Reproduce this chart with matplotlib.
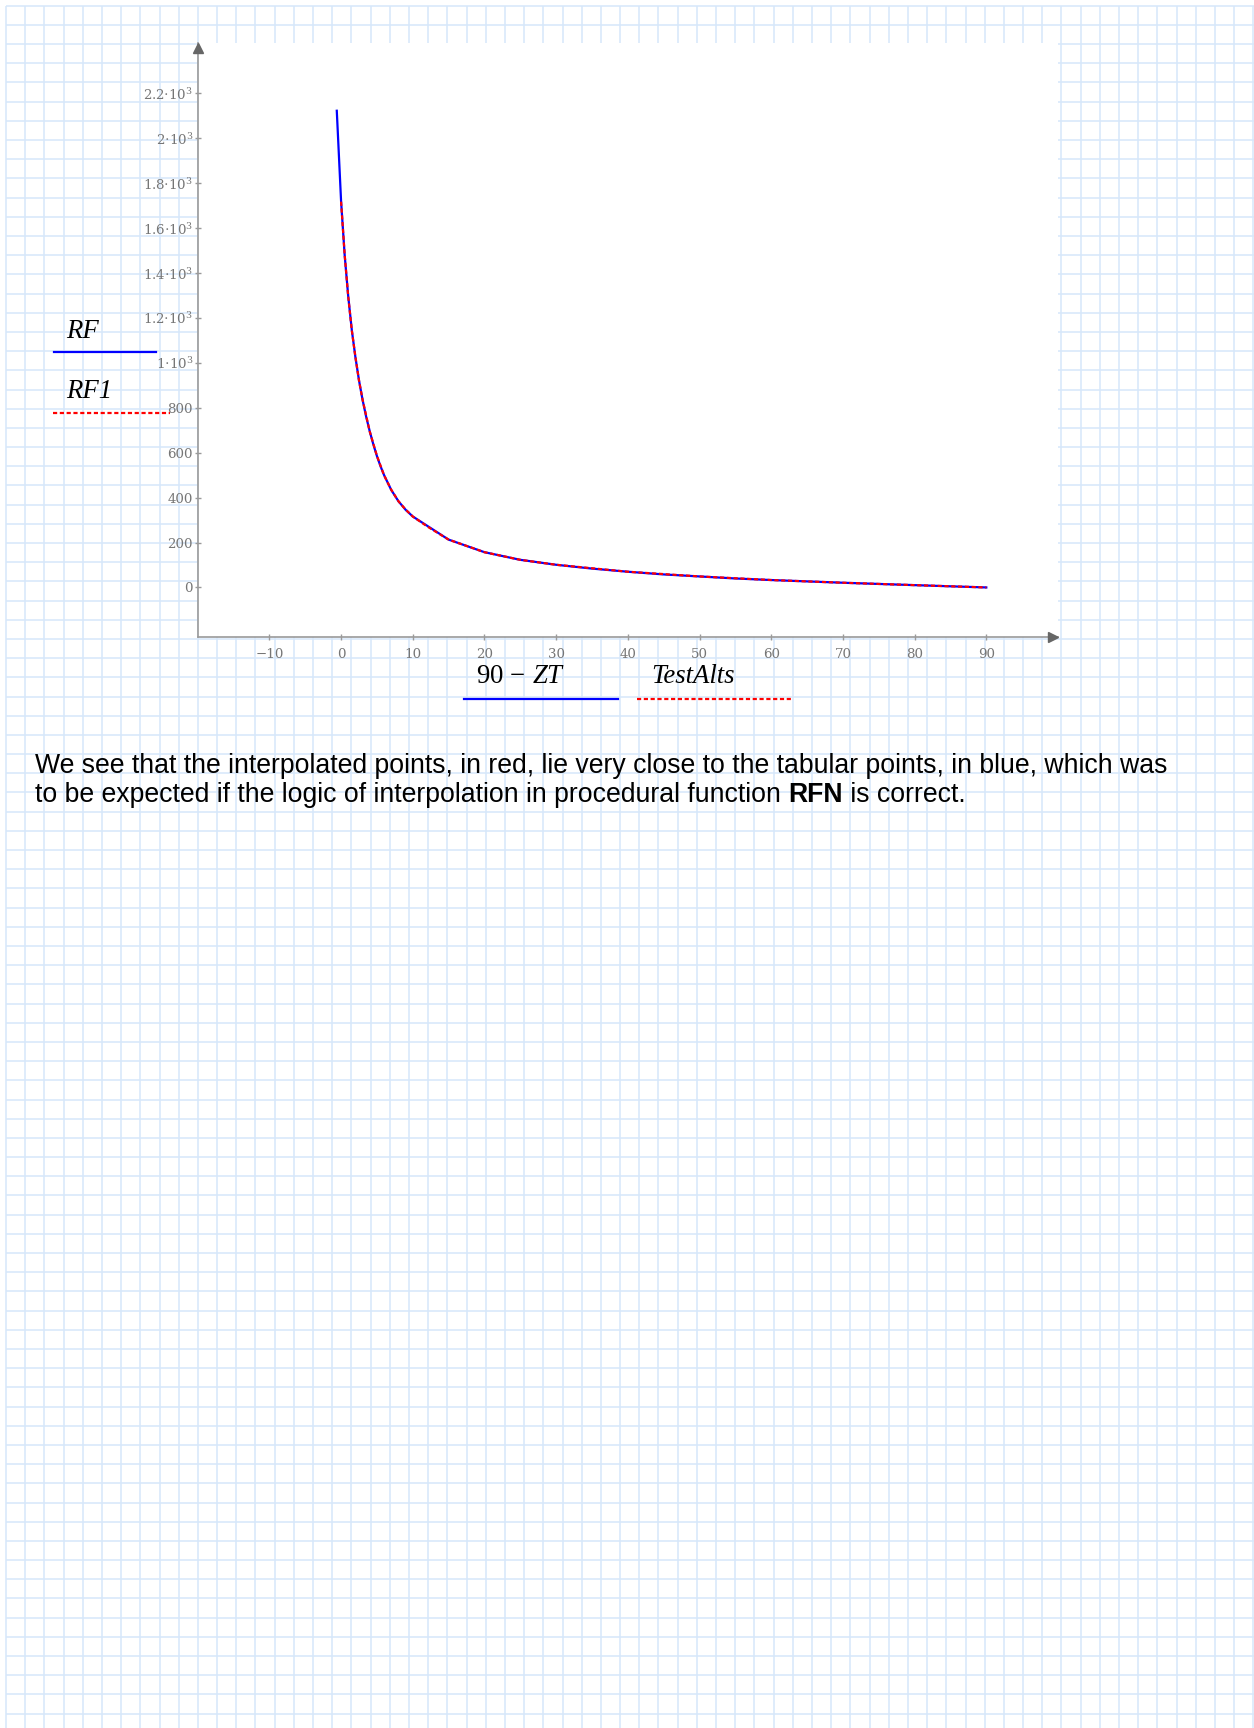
import numpy as np
import matplotlib
matplotlib.use('Agg')
import matplotlib.pyplot as plt
from matplotlib.transforms import offset_copy

plt.rcParams['mathtext.fontset'] = 'custom'
plt.rcParams['mathtext.rm'] = 'Liberation Serif'
plt.rcParams['mathtext.it'] = 'Liberation Serif:italic'
plt.rcParams['lines.scale_dashes'] = False

# tabular refraction (blue) : 90 - ZT vs RF
alt_tab = [-0.6, 0, 0.5, 1, 1.5, 2, 2.5, 3, 3.5, 4, 4.5, 5, 5.5, 6, 7, 8, 9, 10,
           15, 20, 25, 30, 35, 40, 45, 50, 55, 60, 65, 70, 75, 80, 85, 90]
rf_tab = [2123, 1720, 1480, 1295, 1145, 1025, 922, 835, 760, 695, 637, 585,
          540, 500, 434, 384, 346, 316, 213, 157, 123, 101, 84, 70, 58, 49,
          40, 33, 27, 21, 15.6, 10.3, 5.1, 0]

# interpolated test points (red) : TestAlts vs RF1
test_alts = [0, 0.5, 1, 1.5, 2, 2.5, 3, 4, 5, 6, 7, 8, 9, 10, 12, 15, 20, 25,
             30, 40, 50, 60, 70, 80, 90]
rf1 = [1718, 1482, 1294, 1144, 1026, 921, 836, 694, 586, 499, 435, 384, 347,
       316, 272, 213, 157, 123, 101, 70, 49, 33, 21, 10.3, 0]

y_ticks = [0, 200, 400, 600, 800, 1000, 1200, 1400, 1600, 1800, 2000, 2200]
y_labels = ['0', '200', '400', '600', '800', r'$1{\cdot}10^{3}$',
            r'$1.2{\cdot}10^{3}$', r'$1.4{\cdot}10^{3}$', r'$1.6{\cdot}10^{3}$',
            r'$1.8{\cdot}10^{3}$', r'$2{\cdot}10^{3}$', r'$2.2{\cdot}10^{3}$']
x_ticks = [-10, 0, 10, 20, 30, 40, 50, 60, 70, 80, 90]

W, H = 1254, 1728
fig = plt.figure(figsize=(W / 100, H / 100), dpi=100)

# worksheet background with grid, pixel coords
bg = fig.add_axes([0, 0, 1, 1])
bg.set_xlim(0, W)
bg.set_ylim(H, 0)
bg.axis('off')
step = 19.19
gx = 6 + step * np.arange(66)
gy = 5.7 + step * np.arange(90)
grid_col = '#d6e7fa'
bg.vlines(gx, 5.7, H, color=grid_col, lw=1.1, zorder=0)
bg.hlines(gy, 6, W, color=grid_col, lw=1.1, zorder=0)

# plot region
left, right, top, bottom = 197.7, 1058, 42.7, 637.3
ax = fig.add_axes([left / W, 1 - bottom / H, (right - left) / W, (bottom - top) / H])
ax.set_facecolor('white')
ax.plot(alt_tab, rf_tab, color='#0000ff', lw=1.6, zorder=3)
ax.plot(test_alts, rf1, color='#ff0000', lw=1.6, dashes=(3.0, 1.9), zorder=4)
ax.set_xlim(-20, 100)
ax.set_ylim(-222, 2426)

for s in ['top', 'right']:
    ax.spines[s].set_visible(False)
for s in ['left', 'bottom']:
    ax.spines[s].set_color('#9a9a9a')
    ax.spines[s].set_linewidth(1.2)

ax.set_yticks(y_ticks)
ax.set_yticklabels(y_labels)
ax.set_xticks(x_ticks)
ax.set_xticklabels([str(t).replace('-', '\u2212') for t in x_ticks])
ax.tick_params(direction='inout', length=5, width=1.0, color='#9a9a9a',
               labelcolor='#767676', labelsize=9.6)
ax.tick_params(axis='x', pad=5)
ax.tick_params(axis='y', pad=0.8)
for lab in ax.get_xticklabels() + ax.get_yticklabels():
    lab.set_fontfamily('DejaVu Serif')
    lab.set_math_fontfamily('dejavuserif')

# axis arrows
ax.plot([0], [1], marker='^', color='#666666', markersize=6.5, zorder=6, clip_on=False,
        transform=offset_copy(ax.transAxes, fig, x=0, y=-5, units='dots'))
ax.plot([1], [0], marker='>', color='#666666', markersize=6.5, zorder=6, clip_on=False,
        transform=offset_copy(ax.transAxes, fig, x=-5, y=0, units='dots'))

# trace labels
serif_it = dict(family='Liberation Serif', style='italic', color='black', fontsize=19.3)
bg.text(66, 338, 'RF', va='baseline', ha='left', **serif_it)
bg.plot([54, 156], [351.7, 351.7], color='#0000ff', lw=1.6)
bg.text(66, 398, 'RF1', va='baseline', ha='left', **serif_it)
bg.plot([53, 170], [413.3, 413.3], color='#ff0000', lw=1.6, dashes=(3.0, 1.9))

bg.text(476, 683, r'$90\,-\,ZT$', va='baseline', ha='left', fontsize=19.3, color='black')
bg.plot([464, 618], [698.7, 698.7], color='#0000ff', lw=1.6)
bg.text(651, 683, 'TestAlts', va='baseline', ha='left', **serif_it)
bg.plot([637, 792], [698.7, 698.7], color='#ff0000', lw=1.6, dashes=(3.0, 1.9))

# comment text
sans = dict(family='Liberation Sans', fontsize=19.2, color='black', va='baseline', ha='left')
bg.text(35, 773.3, 'We see that the interpolated points, in red, lie very close to the '
        'tabular points, in blue, which was', **sans)
t1 = bg.text(35, 801.7, 'to be expected if the logic of interpolation in procedural function ', **sans)
fig.canvas.draw()
r = fig.canvas.get_renderer()
bb = t1.get_window_extent(r)
t2 = bg.text(bb.x1, H - 801.7, 'RFN', transform=None, fontweight='bold', **sans)
bb2 = t2.get_window_extent(r)
bg.text(bb2.x1, H - 801.7, ' is correct.', transform=None, **sans)

fig.savefig('out.png', dpi=100)
